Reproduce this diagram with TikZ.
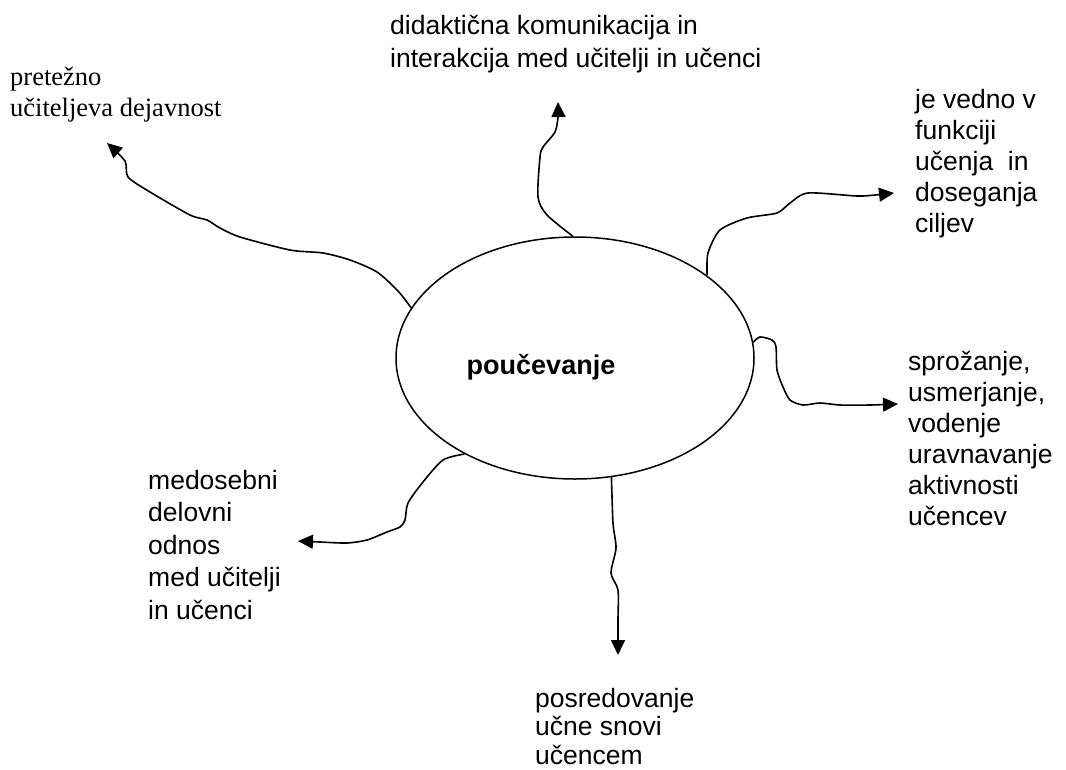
\documentclass[tikz,border=0pt]{standalone}
\usepackage{fontspec}
\newfontfamily\arialf{Liberation Sans}
\newfontfamily\timesf{Liberation Serif}
\usetikzlibrary{shapes.geometric,arrows.meta}
\begin{document}
\begin{tikzpicture}[x=1pt,y=-1pt,
  conn/.style={line width=1.6pt,-{Triangle[length=15pt,width=14pt]}},
  lbl/.style={inner sep=0pt,anchor=north west,align=left,
    font=\arialf\fontsize{26.5}{31}\selectfont},
  lblserif/.style={inner sep=0pt,anchor=north west,align=left,
    font=\timesf\fontsize{26.5}{31}\selectfont}]
\useasboundingbox (0,0) rectangle (1066,769);

% central ellipse and its title
\node[draw,ellipse,line width=1.5pt,minimum width=358pt,minimum height=242pt,inner sep=0pt] (c) at (575,358) {};
\node[inner sep=0pt,anchor=base,font=\arialf\bfseries\fontsize{27}{31}\selectfont] (t) at (541,374) {poučevanje};

% surrounding labels
\node[lblserif] (l1) at (10,67) {pretežno\\učiteljeva dejavnost};
\node[lbl,font=\arialf\fontsize{26.5}{33}\selectfont] (l2) at (390,15) {didaktična komunikacija in\\interakcija med učitelji in učenci};
\node[lbl] (l3) at (915,89) {je vedno v\\funkciji\\učenja\ \ in\\doseganja\\ciljev};
\node[lbl] (l4) at (908,351) {sprožanje,\\usmerjanje,\\vodenje\\uravnavanje\\aktivnosti\\učencev};
\node[lbl,font=\arialf\fontsize{26.5}{32.5}\selectfont] (l5) at (148,470) {medosebni\\delovni\\odnos\\med učitelji\\in učenci};
\node[lbl,font=\arialf\fontsize{26.5}{28.5}\selectfont] (l6) at (535,688) {posredovanje\\učne snovi\\učencem};

% arrow tips
\coordinate (e1) at (107,143);
\coordinate (e2) at (558,102);
\coordinate (e3) at (894,193);
\coordinate (e4) at (898,404);
\coordinate (e5) at (298,541);
\coordinate (e6) at (618,655);

% hand-drawn wavy connectors
\draw[conn] plot[smooth,tension=0.45] coordinates {(c.163) (398,291) (377,272) (350,260) (323,253) (290,250) (240,237) (220,228) (207,220) (190,215) (150,192) (128,177) (125,161) (e1)};
\draw[conn] plot[smooth,tension=0.45] coordinates {(c.91) (547,215) (538,197) (540,157) (543,147) (555,132) (558,117) (e2)};
\draw[conn] plot[smooth,tension=0.45] coordinates {(c.32) (708,253) (720,230) (747,218) (777,213) (790,203) (808,193) (857,196) (875,195) (e3)};
\draw[conn] plot[smooth,tension=0.45] coordinates {(c.5) (760,337) (772,340) (776,347) (777,370) (783,387) (790,400) (803,405) (820,403) (840,405) (870,405) (e4)};
\draw[conn] plot[smooth,tension=0.45] coordinates {(c.221) (443,460) (423,482) (408,503) (405,520) (400,527) (387,532) (367,540) (347,543) (320,542) (e5)};
\draw[conn] plot[smooth,tension=0.45] coordinates {(c.287) (613,523) (616,548) (611,573) (618,590) (618,620) (e6)};
\end{tikzpicture}
\end{document}
